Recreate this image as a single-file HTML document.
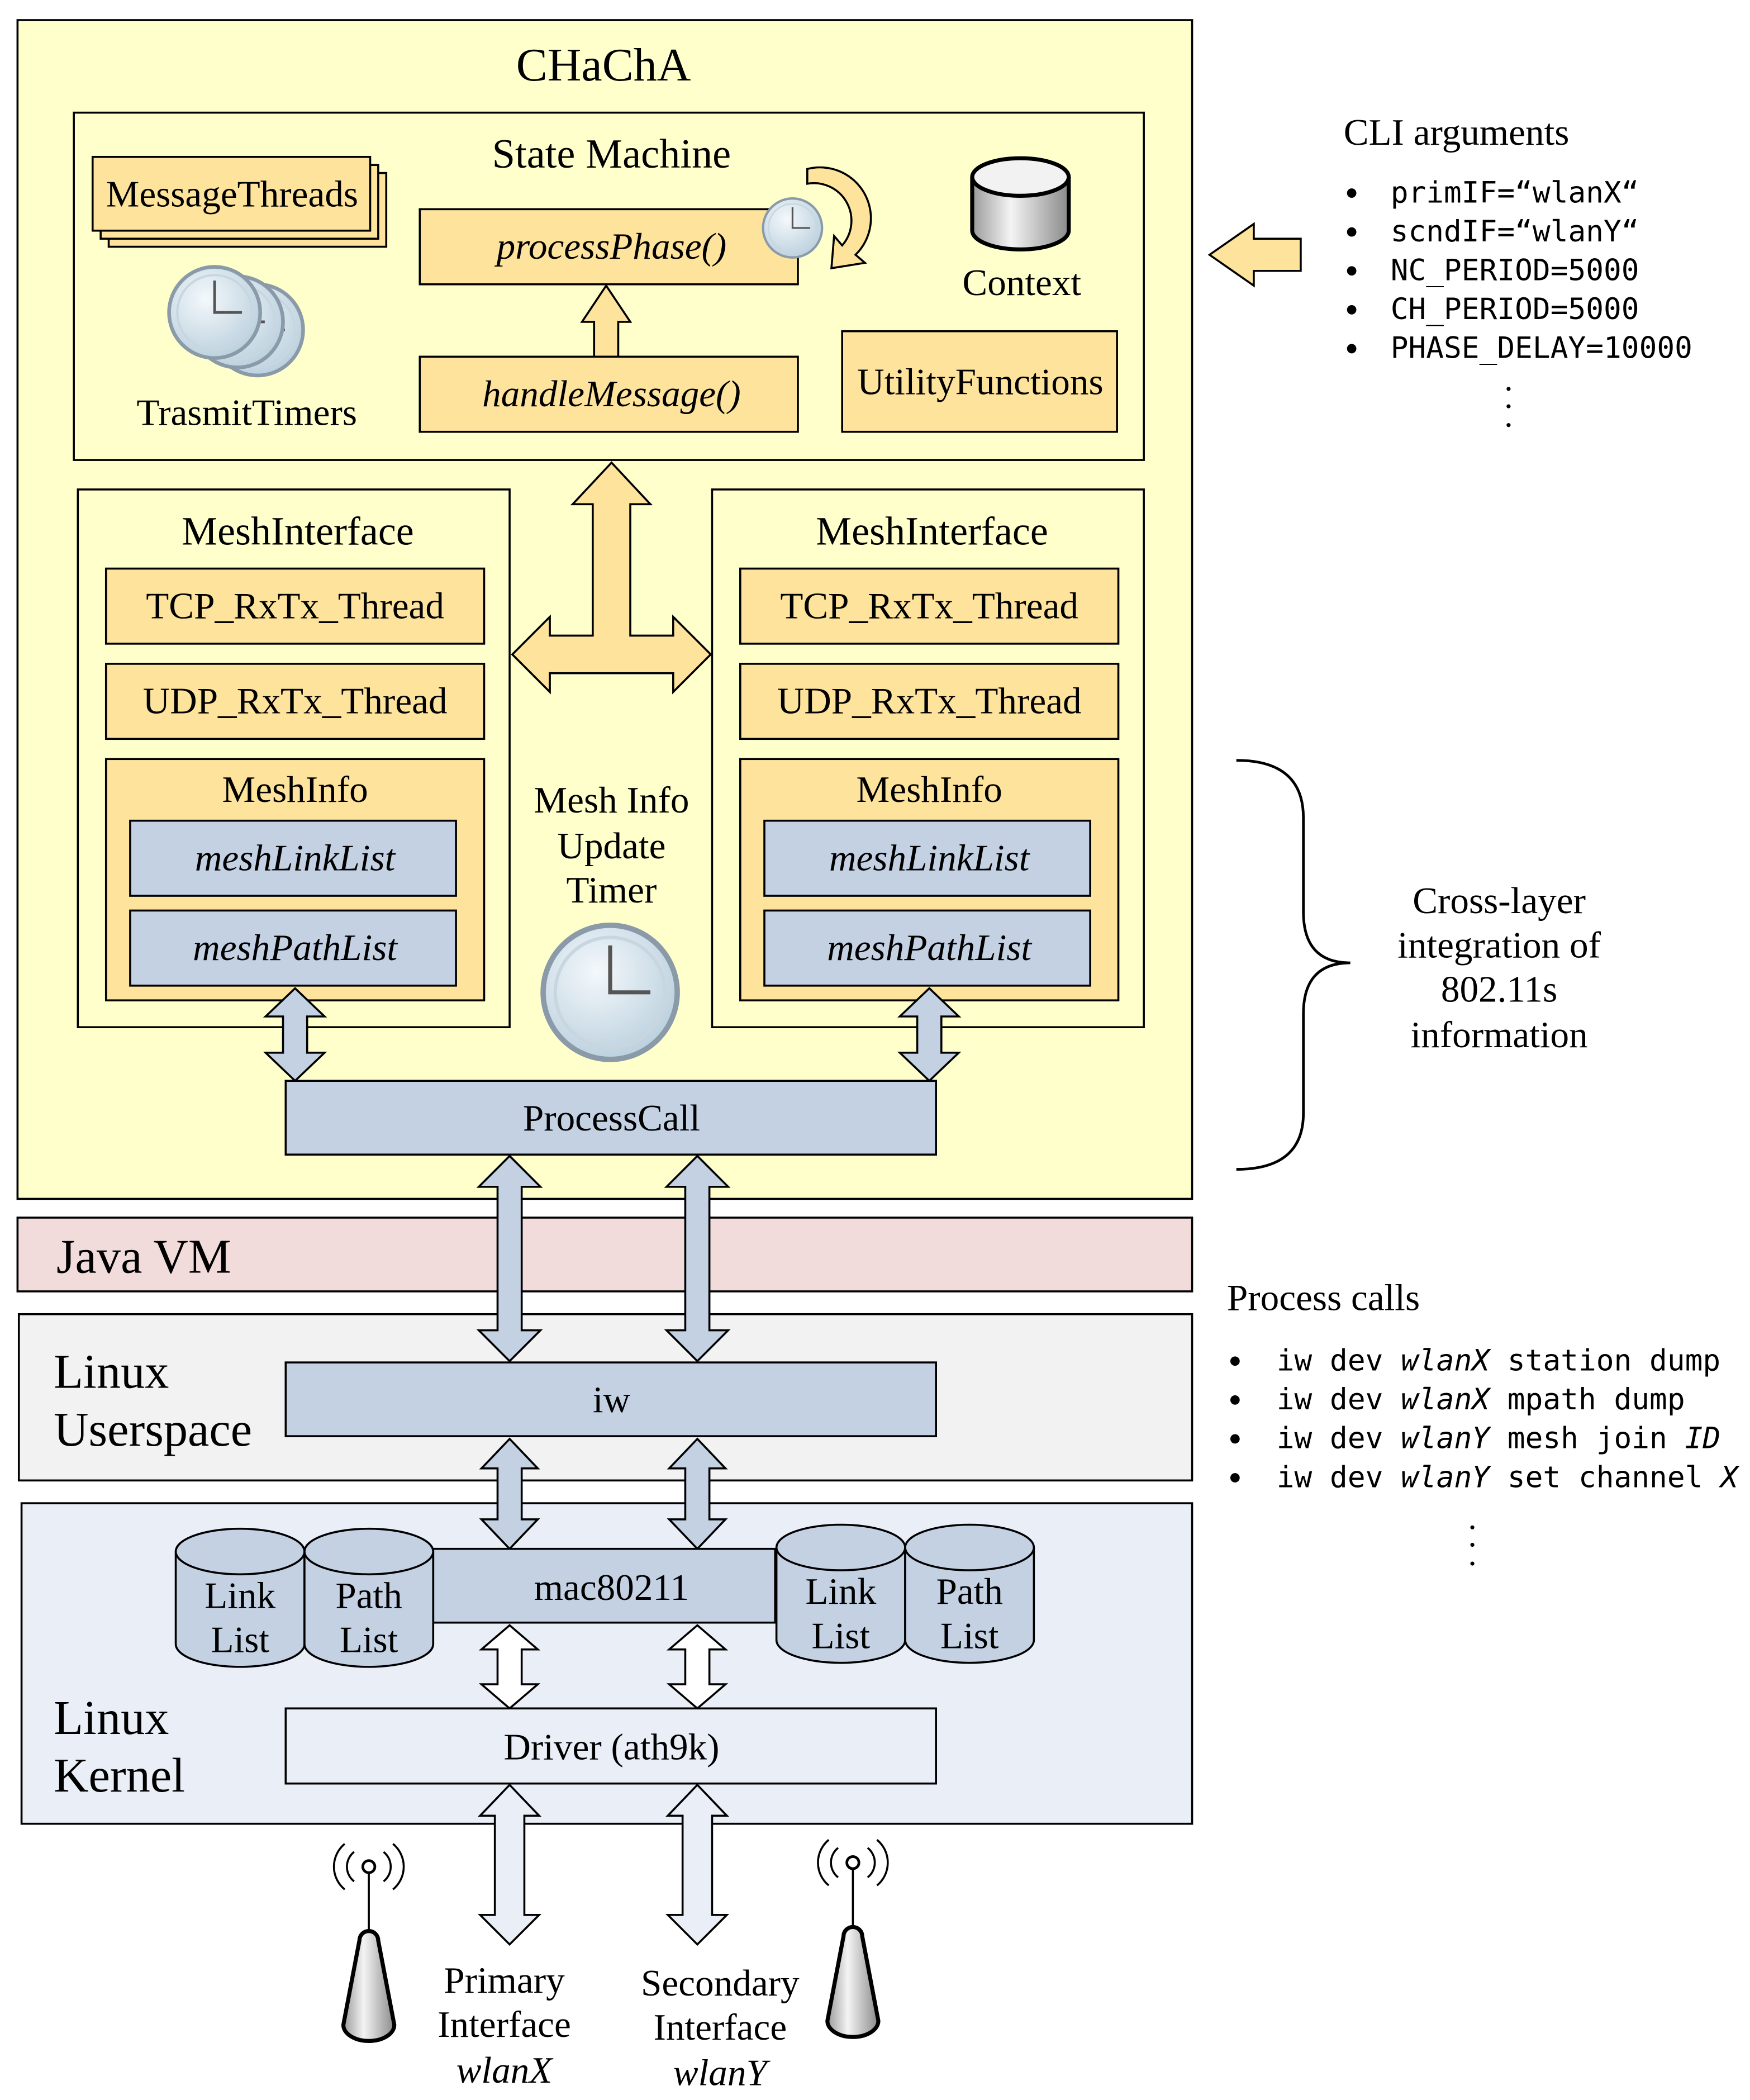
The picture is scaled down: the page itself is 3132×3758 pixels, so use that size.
<!DOCTYPE html>
<html><head><meta charset="utf-8"><style>html,body{margin:0;padding:0;background:#fff}svg{display:block}</style></head>
<body>
<svg xmlns="http://www.w3.org/2000/svg" width="3132" height="3758" viewBox="0 0 1305 1566">
<defs>
<radialGradient id="cg" cx="0.4" cy="0.35" r="0.7"><stop offset="0" stop-color="#f4f8fb"/><stop offset="1" stop-color="#b9cfdd"/></radialGradient>
<linearGradient id="cyl" x1="0" x2="1"><stop offset="0" stop-color="#9a9a9a"/><stop offset="0.4" stop-color="#f4f4f4"/><stop offset="1" stop-color="#8a8a8a"/></linearGradient>
<g id="clock"><circle r="1" fill="url(#cg)" stroke="#8a9aa8" stroke-width="0.08"/><circle r="0.82" fill="none" stroke="#c8d6e0" stroke-width="0.05"/><path d="M0,-0.7 L0,0 L0.6,0" fill="none" stroke="#555" stroke-width="0.06"/></g>
</defs>
<style>
text{font-family:"Liberation Serif",serif;fill:#000}
text.m{font-family:"DejaVu Sans Mono","Liberation Mono",monospace;font-size:22px}
.b{stroke:#000;stroke-width:1.5}
.y{fill:#fde39c}
.bl{fill:#c3d1e3}
</style>
<!-- CHaChA -->
<rect x="13" y="15" width="876" height="879" fill="#ffffcc" class="b"/>
<text x="450" y="60" font-size="35" text-anchor="middle">CHaChA</text>
<rect x="55" y="84" width="798" height="259" fill="none" class="b"/>
<text x="456" y="125" font-size="31" text-anchor="middle">State Machine</text>
<rect x="81" y="129" width="207" height="55" class="y b"/>
<rect x="75" y="123" width="207" height="55" class="y b"/>
<rect x="69" y="117" width="207" height="55" class="y b"/>
<text x="173" y="154" font-size="28" text-anchor="middle">MessageThreads</text>
<use href="#clock" transform="translate(192,246) scale(34)"/>
<use href="#clock" transform="translate(177,240) scale(34)"/>
<use href="#clock" transform="translate(160,233) scale(34)"/>
<text x="184" y="317" font-size="28" text-anchor="middle">TrasmitTimers</text>
<rect x="313" y="156" width="282" height="56" class="y b"/>
<text x="456" y="193" font-size="28" font-style="italic" text-anchor="middle">processPhase()</text>
<path d="M602,126 A38,38 0 0 1 638,190 L645,196 L620,200 L622,176 L628,183 A28,28 0 0 0 602,137 Z" fill="#fde39c" stroke="#000" stroke-width="1.5"/>
<use href="#clock" transform="translate(591,170) scale(22)"/>
<polygon points="452,213 470,240 461,240 461,266 443,266 443,240 434,240" class="y b"/>
<rect x="313" y="266" width="282" height="56" class="y b"/>
<text x="456" y="303" font-size="28" font-style="italic" text-anchor="middle">handleMessage()</text>
<path d="M725,132 L725,172 A36,14 0 0 0 797,172 L797,132" fill="url(#cyl)" stroke="#000" stroke-width="3"/>
<ellipse cx="761" cy="132" rx="36" ry="14" fill="#f2f2f2" stroke="#000" stroke-width="3"/>
<text x="762" y="220" font-size="28" text-anchor="middle">Context</text>
<rect x="628" y="247" width="205" height="75" class="y b"/>
<text x="731" y="294" font-size="28" text-anchor="middle">UtilityFunctions</text>
<!-- T arrow -->
<polygon points="456,345 485,376 470,376 470,474 502,474 502,460 530,488 502,516 502,502 410,502 410,516 382,488 410,460 410,474 442,474 442,376 427,376" class="y b"/>
<!-- Mesh interfaces -->
<g id="mi">
<rect x="58" y="365" width="322" height="401" fill="none" class="b"/>
<text x="222" y="406" font-size="30" text-anchor="middle">MeshInterface</text>
<rect x="79" y="424" width="282" height="56" class="y b"/>
<text x="220" y="461" font-size="28" text-anchor="middle">TCP_RxTx_Thread</text>
<rect x="79" y="495" width="282" height="56" class="y b"/>
<text x="220" y="532" font-size="28" text-anchor="middle">UDP_RxTx_Thread</text>
<rect x="79" y="566" width="282" height="180" class="y b"/>
<text x="220" y="598" font-size="28" text-anchor="middle">MeshInfo</text>
<rect x="97" y="612" width="243" height="56" class="bl b"/>
<text x="220" y="649" font-size="28" font-style="italic" text-anchor="middle">meshLinkList</text>
<rect x="97" y="679" width="243" height="56" class="bl b"/>
<text x="220" y="716" font-size="28" font-style="italic" text-anchor="middle">meshPathList</text>
<polygon points="220,737 242,758 229,758 229,785 242,785 220,806 198,785 211,785 211,758 198,758" class="bl b"/>
</g>
<use href="#mi" transform="translate(473,0)"/>
<text x="456" y="606" font-size="28" text-anchor="middle">Mesh Info</text>
<text x="456" y="640" font-size="28" text-anchor="middle">Update</text>
<text x="456" y="673" font-size="28" text-anchor="middle">Timer</text>
<use href="#clock" transform="translate(455,740) scale(50)"/>
<rect x="213" y="806" width="485" height="55" class="bl b"/>
<text x="456" y="843" font-size="28" text-anchor="middle">ProcessCall</text>
<!-- Java VM -->
<rect x="13" y="908" width="876" height="55" fill="#f2dcdb" class="b"/>
<text x="42" y="949" font-size="36">Java VM</text>
<!-- Userspace -->
<rect x="14" y="980" width="875" height="124" fill="#f2f2f2" class="b"/>
<text x="40" y="1035" font-size="36">Linux</text>
<text x="40" y="1078" font-size="36">Userspace</text>
<rect x="213" y="1016" width="485" height="55" class="bl b"/>
<text x="456" y="1053" font-size="28" text-anchor="middle">iw</text>
<!-- Kernel -->
<rect x="16" y="1121" width="873" height="239" fill="#e9eef7" class="b"/>
<text x="40" y="1293" font-size="36">Linux</text>
<text x="40" y="1336" font-size="36">Kernel</text>
<!-- long arrows -->
<g id="la">
<polygon points="380,862 403,885 389,885 389,992 403,992 380,1015 357,992 371,992 371,885 357,885" class="bl b"/>
<polygon points="380,1073 401,1095 389,1095 389,1133 401,1133 380,1155 359,1133 371,1133 371,1095 359,1095" class="bl b"/>
<polygon points="380,1212 401,1230 389,1230 389,1256 401,1256 380,1274 359,1256 371,1256 371,1230 359,1230" fill="#fff" class="b"/>
<polygon points="380,1331 402,1354 391,1354 391,1428 402,1428 380,1450 358,1428 369,1428 369,1354 358,1354" fill="#e9eef7" class="b"/>
</g>
<use href="#la" transform="translate(140,0)"/>
<rect x="323" y="1155" width="255" height="55" class="bl b"/>
<text x="456" y="1193" font-size="28" text-anchor="middle">mac80211</text>
<g id="cy">
<path d="M131,1157 L131,1226 A48,17 0 0 0 227,1226 L227,1157" class="bl b"/>
<ellipse cx="179" cy="1157" rx="48" ry="17" class="bl b"/>
<text x="179" y="1199" font-size="28" text-anchor="middle">Link</text>
<text x="179" y="1232" font-size="28" text-anchor="middle">List</text>
<path d="M227,1157 L227,1226 A48,17 0 0 0 323,1226 L323,1157" class="bl b"/>
<ellipse cx="275" cy="1157" rx="48" ry="17" class="bl b"/>
<text x="275" y="1199" font-size="28" text-anchor="middle">Path</text>
<text x="275" y="1232" font-size="28" text-anchor="middle">List</text>
</g>
<use href="#cy" transform="translate(448,-3)"/>
<rect x="213" y="1274" width="485" height="56" fill="#e9eef7" class="b"/>
<text x="456" y="1312" font-size="28" text-anchor="middle">Driver (ath9k)</text>
<!-- antennas -->
<g id="an">
<line x1="275" y1="1392" x2="275" y2="1445" stroke="#000" stroke-width="1.5"/>
<circle cx="275" cy="1392" r="4.5" fill="#fff" stroke="#000" stroke-width="2"/>
<path d="M264,1381 A14,14 0 0 0 264,1403 M286,1381 A14,14 0 0 1 286,1403 M257,1375 A22,22 0 0 0 257,1409 M293,1375 A22,22 0 0 1 293,1409" fill="none" stroke="#000" stroke-width="1.5"/>
<path d="M268,1447 A7,7 0 0 1 282,1447 L294,1510 A19,12 0 0 1 256,1510 Z" fill="url(#cyl)" stroke="#000" stroke-width="3"/>
</g>
<use href="#an" transform="translate(361,-3)"/>
<text x="376" y="1486" font-size="28" text-anchor="middle">Primary</text>
<text x="376" y="1519" font-size="28" text-anchor="middle">Interface</text>
<text x="376" y="1553" font-size="28" font-style="italic" text-anchor="middle">wlanX</text>
<text x="537" y="1488" font-size="28" text-anchor="middle">Secondary</text>
<text x="537" y="1521" font-size="28" text-anchor="middle">Interface</text>
<text x="537" y="1555" font-size="28" font-style="italic" text-anchor="middle">wlanY</text>
<!-- right side -->
<text x="1002" y="108" font-size="28">CLI arguments</text>
<g fill="#000"><circle cx="1008" cy="144" r="3.5"/><circle cx="1008" cy="173" r="3.5"/><circle cx="1008" cy="202" r="3.5"/><circle cx="1008" cy="231" r="3.5"/><circle cx="1008" cy="260" r="3.5"/></g>
<text class="m" x="1037" y="151">primIF=“wlanX“</text>
<text class="m" x="1037" y="180">scndIF=“wlanY“</text>
<text class="m" x="1037" y="209">NC_PERIOD=5000</text>
<text class="m" x="1037" y="238">CH_PERIOD=5000</text>
<text class="m" x="1037" y="267">PHASE_DELAY=10000</text>
<circle cx="1125" cy="290" r="1.5"/><circle cx="1125" cy="303" r="1.5"/><circle cx="1125" cy="317" r="1.5"/>
<polygon points="902,190 935,167 935,178 970,178 970,202 935,202 935,213" class="y b"/>
<path d="M922,567 Q972,567 972,610 L972,680 Q972,718 1007,718 Q972,718 972,756 L972,830 Q972,872 922,872" fill="none" stroke="#000" stroke-width="2"/>
<text x="1118" y="681" font-size="28" text-anchor="middle">Cross-layer</text>
<text x="1118" y="714" font-size="28" text-anchor="middle">integration of</text>
<text x="1118" y="747" font-size="28" text-anchor="middle">802.11s</text>
<text x="1118" y="781" font-size="28" text-anchor="middle">information</text>
<text x="915" y="977" font-size="28">Process calls</text>
<g fill="#000"><circle cx="921" cy="1015" r="3.5"/><circle cx="921" cy="1044" r="3.5"/><circle cx="921" cy="1073" r="3.5"/><circle cx="921" cy="1102" r="3.5"/></g>
<text class="m" x="952" y="1022">iw dev <tspan font-style="italic">wlanX</tspan> station dump</text>
<text class="m" x="952" y="1051">iw dev <tspan font-style="italic">wlanX</tspan> mpath dump</text>
<text class="m" x="952" y="1080">iw dev <tspan font-style="italic">wlanY</tspan> mesh join <tspan font-style="italic">ID</tspan></text>
<text class="m" x="952" y="1109">iw dev <tspan font-style="italic">wlanY</tspan> set channel <tspan font-style="italic">X</tspan></text>
<circle cx="1098" cy="1139" r="1.5"/><circle cx="1098" cy="1152" r="1.5"/><circle cx="1098" cy="1166" r="1.5"/>
</svg>
</body></html>
